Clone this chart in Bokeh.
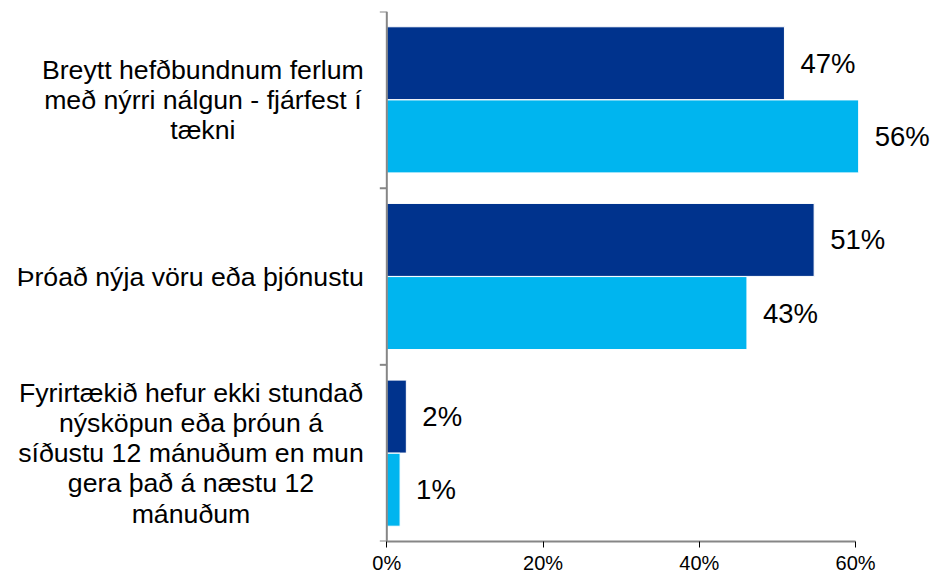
import math
from bokeh.plotting import figure
from bokeh.models import Range1d, FixedTicker, PrintfTickFormatter, ColumnDataSource
from bokeh.core.properties import value
from bokeh.embed import file_html
from bokeh.resources import INLINE

# ---- data ----
categories = [
    "Breytt hefðbundnum ferlum\nmeð nýrri nálgun - fjárfest í\ntækni",
    "Þróað nýja vöru eða þjónustu",
    "Fyrirtækið hefur ekki stundað\nnýsköpun eða þróun á\nsíðustu 12 mánuðum en mun\ngera það á næstu 12\nmánuðum",
]
# bar lengths as drawn against the % axis
series_a_bars = [50.9, 54.7, 2.5]
series_b_bars = [60.4, 46.1, 1.7]
# printed data labels (%)
series_a_labels = [47, 51, 2]
series_b_labels = [56, 43, 1]
x_ticks = [0, 20, 40, 60]

FONT = "Liberation Sans"
DARK = "#00338D"
LIGHT = "#00B5EF"
AXIS_GRAY = "#868686"

n = len(categories)
bar_h = 0.413
off = 0.207
centers = [i + 0.5 for i in range(n)]

src_a = ColumnDataSource(dict(
    y=[c - off for c in centers], v=series_a_bars,
    lab=[f"{v}%" for v in series_a_labels]))
src_b = ColumnDataSource(dict(
    y=[c + off for c in centers], v=series_b_bars,
    lab=[f"{v}%" for v in series_b_labels]))
src_c = ColumnDataSource(dict(y=centers, cat=categories, x=[0] * n))

# frame spans full width; the value axis 0..60 sits inside it
p = figure(width=933, height=576, output_backend="svg", toolbar_location=None,
           x_range=Range1d(-49.45, 69.98), y_range=Range1d(n, 0),
           y_axis_location=None,
           min_border_left=0, min_border_right=0, min_border_top=11,
           min_border_bottom=0)
p.outline_line_color = None
p.grid.visible = False
p.background_fill_color = "white"
p.border_fill_color = "white"

p.hbar(y="y", left=0, right="v", height=bar_h, source=src_a,
       fill_color=DARK, line_color="white", line_width=1)
p.hbar(y="y", left=0, right="v", height=bar_h, source=src_b,
       fill_color=LIGHT, line_color="white", line_width=1)

for src in (src_a, src_b):
    p.text(x="v", y="y", text="lab", source=src, x_offset=16,
           text_align="left", text_baseline="middle",
           text_font=value(FONT), text_font_size=value("27.5px"),
           text_color="#000000")

# label block right-anchored next to the axis, lines centred inside the block
p.text(x="x", y="y", text="cat", source=src_c, x_offset=-23,
       anchor=value("center_right"),
       text_align="center", text_baseline="middle",
       text_font=value(FONT), text_font_size=value("26.7px"),
       text_line_height=1.01, text_color="#000000")

# category axis (line at 0 with ticks at the category boundaries)
p.segment(x0=[0], y0=[0], x1=[0], y1=[n], line_color=AXIS_GRAY, line_width=2)
p.ray(x=[0] * (n + 1), y=list(range(n + 1)), length=7, length_units="screen",
      angle=math.pi, line_color=AXIS_GRAY, line_width=2)

# value axis
xa = p.xaxis[0]
xa.bounds = (0, 60)
xa.ticker = FixedTicker(ticks=x_ticks)
xa.formatter = PrintfTickFormatter(format="%d%%")
xa.axis_line_color = AXIS_GRAY
xa.axis_line_width = 2
xa.major_tick_line_color = "#000000"
xa.major_tick_in = 0
xa.major_tick_out = 6
xa.minor_tick_line_color = None
xa.major_label_standoff = 4
xa.major_label_text_font = FONT
xa.major_label_text_font_size = "20px"
xa.major_label_text_color = "#000000"

open("out.html", "w").write(file_html(p, INLINE))
